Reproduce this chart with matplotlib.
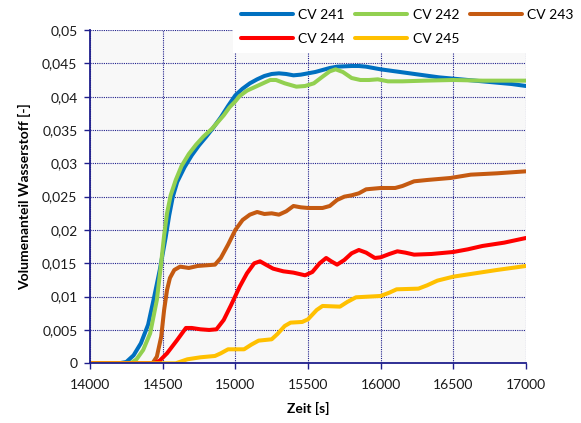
import matplotlib
matplotlib.use("Agg")
import matplotlib.pyplot as plt
from matplotlib.ticker import FuncFormatter, MultipleLocator
import numpy as np

# Hydrogen volume fraction per control volume over time
t_241 = [14000, 14200, 14250, 14300, 14350, 14400, 14440, 14480, 14520, 14545, 14570, 14600, 14650,
         14700, 14750, 14800, 14850, 14900, 14950, 15000, 15050, 15100, 15150, 15200, 15250,
         15300, 15350, 15400, 15450, 15500, 15550, 15600, 15650, 15700, 15800, 15850, 15900,
         16000, 16100, 16200, 16300, 16400, 16500, 16600, 16700, 16800, 16900, 17000]
cv_241 = [0, 0, 0.0002, 0.0012, 0.003, 0.0058, 0.0098, 0.014, 0.0188, 0.0222, 0.0250, 0.0272, 0.0294,
          0.0312, 0.0327, 0.0340, 0.0354, 0.0369, 0.0386, 0.0402, 0.0412, 0.0420, 0.0426, 0.0431, 0.0434,
          0.0435, 0.0434, 0.0432, 0.0433, 0.0435, 0.0437, 0.0440, 0.0443, 0.0445, 0.0446, 0.0446, 0.0445,
          0.0441, 0.0438, 0.0435, 0.0432, 0.0429, 0.0427, 0.0425, 0.0423, 0.0421, 0.0419, 0.0416]

t_242 = [14000, 14280, 14320, 14366, 14414, 14460, 14487, 14510, 14530, 14555, 14590, 14630, 14680,
         14730, 14780, 14840, 14880, 14920, 14960, 15000, 15030, 15080, 15130, 15180, 15240,
         15280, 15340, 15420, 15480, 15540, 15600, 15650, 15690, 15740, 15800, 15860, 15920,
         15980, 16050, 16150, 16300, 16500, 16700, 17000]
cv_242 = [0, 0, 0.0006, 0.002, 0.0045, 0.0095, 0.0145, 0.0192, 0.0225, 0.0252, 0.0275, 0.0296, 0.0314,
          0.0328, 0.0340, 0.0352, 0.0362, 0.0372, 0.0384, 0.0393, 0.0401, 0.0409, 0.0414, 0.0419, 0.0425,
          0.0425, 0.0420, 0.0415, 0.0416, 0.0420, 0.0430, 0.0438, 0.0441, 0.0437, 0.0428, 0.0425, 0.0425,
          0.0426, 0.0423, 0.0423, 0.0424, 0.0425, 0.0424, 0.0424]

t_243 = [14000, 14430, 14460, 14490, 14510, 14530, 14550, 14580, 14620, 14680, 14740, 14800,
         14860, 14900, 14950, 15000, 15050, 15100, 15150, 15200, 15250, 15300, 15350, 15400,
         15450, 15500, 15600, 15650, 15700, 15750, 15800, 15850, 15900, 16000, 16100, 16150,
         16230, 16320, 16480, 16620, 16800, 17000]
cv_243 = [0, 0, 0.001, 0.004, 0.008, 0.011, 0.0128, 0.014, 0.0145, 0.0143, 0.0146, 0.0147,
          0.0148, 0.0158, 0.0178, 0.0200, 0.0215, 0.0223, 0.0227, 0.0224, 0.0225, 0.0223, 0.0228, 0.0236,
          0.0234, 0.0233, 0.0233, 0.0236, 0.0245, 0.0250, 0.0252, 0.0255, 0.0261, 0.0263, 0.0263, 0.0266,
          0.0273, 0.0275, 0.0278, 0.0283, 0.0285, 0.0288]

t_244 = [14000, 14440, 14480, 14530, 14600, 14660, 14700, 14760, 14820, 14870, 14920, 14970,
         15030, 15080, 15130, 15170, 15210, 15260, 15330, 15400, 15480, 15530, 15580, 15625,
         15660, 15700, 15750, 15800, 15850, 15900, 15960, 16000, 16060, 16115, 16170, 16230,
         16350, 16500, 16600, 16700, 16850, 17000]
cv_244 = [0, 0, 0.0004, 0.0015, 0.0035, 0.0053, 0.0053, 0.0051, 0.0050, 0.0051, 0.0065, 0.0087,
          0.0115, 0.0135, 0.0150, 0.0153, 0.0148, 0.0142, 0.0138, 0.0136, 0.0132, 0.0137, 0.0150, 0.0158,
          0.0153, 0.0148, 0.0155, 0.0165, 0.0170, 0.0166, 0.0158, 0.0159, 0.0164, 0.0168, 0.0166, 0.0163,
          0.0164, 0.0167, 0.0171, 0.0176, 0.0181, 0.0188]

t_245 = [14000, 14590, 14630, 14670, 14760, 14860, 14900, 14950, 15060, 15110, 15160, 15250,
         15290, 15340, 15380, 15460, 15500, 15560, 15600, 15720, 15770, 15830, 16000, 16060,
         16110, 16260, 16320, 16390, 16500, 16620, 16800, 17000]
cv_245 = [0, 0, 0.0003, 0.0006, 0.0009, 0.0011, 0.0015, 0.0021, 0.0021, 0.0028, 0.0034, 0.0036,
          0.0044, 0.0056, 0.0061, 0.0062, 0.0066, 0.0080, 0.0086, 0.0085, 0.0092, 0.0099, 0.0101, 0.0106,
          0.0111, 0.0112, 0.0117, 0.0124, 0.0130, 0.0134, 0.0140, 0.0146]

labels = ["CV 241", "CV 242", "CV 243", "CV 244", "CV 245"]
colors = ["#0070C0", "#92D050", "#C55A11", "#FF0000", "#FFC000"]

plt.rcParams['font.family'] = ['Lato', 'DejaVu Sans']
navy = "#1F1F8C"

fig = plt.figure(figsize=(5.81, 4.23), dpi=100)
ax = fig.add_axes([90 / 581, 1 - 363.3 / 423, 436 / 581, 333.3 / 423])
ax.set_facecolor("#F8F8F8")

series = [(t_241, cv_241), (t_242, cv_242), (t_243, cv_243), (t_244, cv_244), (t_245, cv_245)]
handles = []
for (t, v), lab, c in zip(series, labels, colors):
    h, = ax.plot(t, v, color=c, lw=2.9, label=lab, solid_capstyle="round", solid_joinstyle="round")
    handles.append(h)

ax.set_xlim(14000, 17000)
ax.set_ylim(0, 0.05)
ax.xaxis.set_major_locator(MultipleLocator(500))
ax.yaxis.set_major_locator(MultipleLocator(0.005))
ax.yaxis.set_major_formatter(FuncFormatter(lambda v, p: f"{v:.3f}".rstrip("0").rstrip(".").replace(".", ",") if v else "0"))

ax.grid(True, color=navy, linestyle=(0, (1, 1)), linewidth=0.8)
ax.set_axisbelow(True)
for s in ["top", "right"]:
    ax.spines[s].set_visible(False)
for s in ["left", "bottom"]:
    ax.spines[s].set_color(navy)
    ax.spines[s].set_linewidth(1.3)
ax.tick_params(axis="both", colors=navy, length=4, width=1.0, labelsize=10, labelcolor="#1A1A1A")
ax.tick_params(axis="x", pad=7)
ax.tick_params(axis="y", pad=5)

ax.set_xlabel("Zeit [s]", fontsize=10, fontweight="bold", labelpad=8)
ax.set_ylabel("Volumenanteil Wasserstoff [-]", fontsize=10, fontweight="bold", labelpad=8)

# legend filled row by row: 241 242 243 / 244 245
order = [0, 3, 1, 4, 2]
leg = fig.legend([handles[i] for i in order], [labels[i] for i in order],
                 loc="upper left", bbox_to_anchor=(233 / 581, 1 - 1 / 423), ncol=3,
                 fontsize=10, handlelength=3.75, handletextpad=0.4, columnspacing=0.75,
                 labelspacing=0.9, borderpad=0.55, borderaxespad=0, frameon=True,
                 fancybox=False)
leg.get_frame().set_facecolor("white")
leg.get_frame().set_edgecolor("none")
leg.get_frame().set_alpha(1)
for line in leg.get_lines():
    line.set_linewidth(2.9)

fig.savefig("out.png", dpi=100, facecolor="white")
